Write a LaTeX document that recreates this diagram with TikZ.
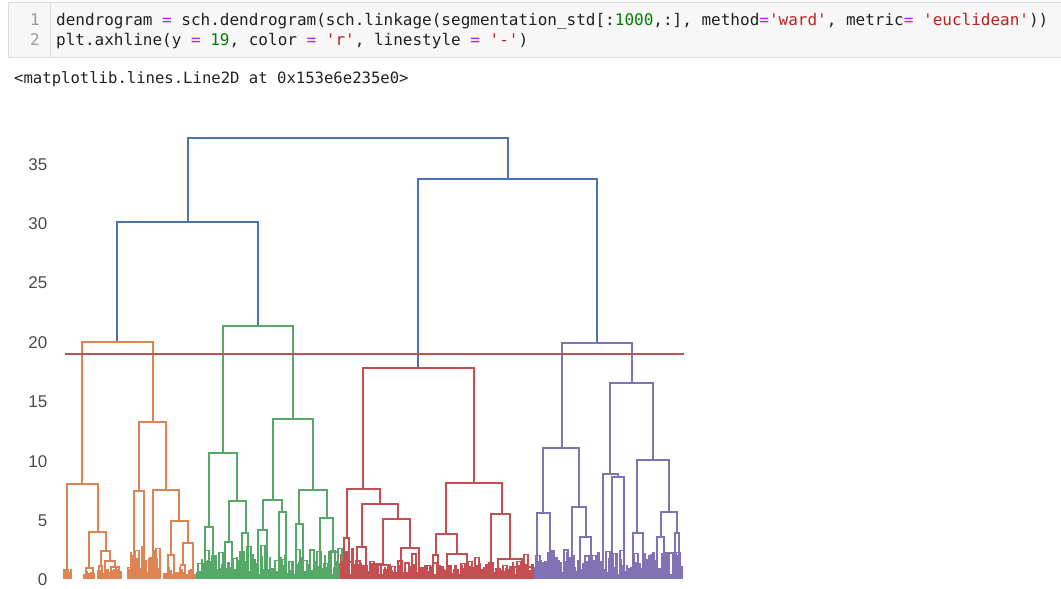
\documentclass[tikz,border=0pt]{standalone}
\usepackage{fontspec}
\setsansfont{Liberation Sans}
\newfontfamily\codefont{DejaVu Sans Mono}
\definecolor{dblue}{HTML}{4C72B0}
\definecolor{dorange}{HTML}{DD8452}
\definecolor{dgreen}{HTML}{55A868}
\definecolor{dred}{HTML}{C44E52}
\definecolor{dpurple}{HTML}{8172B3}
\definecolor{cellbg}{HTML}{F7F7F7}
\definecolor{cellbd}{HTML}{DCDCDC}
\definecolor{tickgray}{HTML}{4A4A4A}
\definecolor{opcol}{HTML}{AA22FF}
\definecolor{numcol}{HTML}{008000}
\definecolor{strcol}{HTML}{BA2121}
\newcommand{\kop}[1]{\textcolor{opcol}{#1}}
\newcommand{\knum}[1]{\textcolor{numcol}{#1}}
\newcommand{\kstr}[1]{\textcolor{strcol}{#1}}
\tikzset{
	merge/.style = {line width=1.9pt, line join=miter},
	upper/.style = {merge, draw=dblue},
	grpA/.style = {merge, draw=dorange},
	grpB/.style = {merge, draw=dgreen},
	grpC/.style = {merge, draw=dred},
	grpD/.style = {merge, draw=dpurple},
	leaf/.style = {line width=1.3pt},
	cut/.style = {line width=1.9pt, draw=dred},
	ticklab/.style = {anchor=east, inner sep=0pt, text=tickgray, font=\sffamily\fontsize{17}{17}\selectfont},
	codeline/.style = {anchor=base west, inner sep=0pt, text=black!87, font=\codefont\fontsize{16}{16}\selectfont},
	lineno/.style = {anchor=base east, inner sep=0pt, text=black!40, font=\codefont\fontsize{16}{16}\selectfont}
}

\begin{document}
\begin{tikzpicture}[x=1pt, y=-1pt]
		\useasboundingbox (0,0) rectangle (1061,589);
		\draw[fill=cellbg, draw=cellbd] (8.5,2.5) rectangle (1070,57.5);
		\draw[cellbd] (50.5,2.5) -- (50.5,57.5);
		\node [lineno] (num1) at (40,25.5) {1};
		\node [lineno] (num2) at (40,45.5) {2};
		\node [codeline] (code1) at (56,25.5) {dendrogram \kop{=} sch.dendrogram(sch.linkage(segmentation\_std[:\knum{1000},:], method\kop{=}\kstr{'ward'}, metric\kop{=} \kstr{'euclidean'}))};
		\node [codeline] (code2) at (56,45.5) {plt.axhline(y \kop{=} \knum{19}, color \kop{=} \kstr{'r'}, linestyle \kop{=} \kstr{'-'})};
		\node [codeline, font=\codefont\fontsize{15.6}{16}\selectfont] (result) at (14,83.5) {<matplotlib.lines.Line2D at 0x153e6e235e0>};
		\foreach \v [count=\i from 0] in {0,5,...,35}
			\node [ticklab] (tick\i) at (47.5,{580-11.88*\v}) {\v};
		\pgfmathsetseed{11}
		\foreach \xa/\xb/\hm/\cc in {64/72/8/dorange, 84/93/5/dorange, 98/122/7/dorange, 128/160/30/dorange, 164/196/12/dorange, 197/340/22/dgreen, 341/356/30/dred, 356/533/12/dred, 534/682/24/dpurple}{
			\pgfmathtruncatemacro{\nn}{(\xb-\xa)/2.2}
			\foreach \i in {0,...,\nn}{
				\pgfmathsetmacro{\xl}{\xa+2.2*\i}
				\pgfmathsetmacro{\hh}{575-\hm*rnd}
				\draw[leaf, draw=\cc] (\xl,579) |- ({\xl+1.2},\hh) -- ({\xl+1.2},579);
			}
		}
		\foreach \xa/\xb/\hm/\cc in {128/158/22/dorange, 198/338/28/dgreen, 342/530/16/dred, 536/680/26/dpurple}{
			\pgfmathtruncatemacro{\nn}{(\xb-\xa)/7}
			\foreach \i in {0,...,\nn}{
				\pgfmathsetmacro{\xl}{\xa+7*\i}
				\pgfmathsetmacro{\hh}{570-\hm*rnd}
				\draw[leaf, draw=\cc] (\xl,579) |- ({\xl+4},\hh) -- ({\xl+4},579);
			}
		}
		\foreach \xa/\ya/\xb/\yb/\h in {188.3/222.3/507.7/179.3/138.3, 116.7/342.3/258.3/326/222.3, 418.3/368.3/596.7/343.3/179.3}
			\draw[upper] (\xa,\ya) |- (\xb,\h) -- (\xb,\yb);
		\foreach \xa/\ya/\xb/\yb/\h in {81.7/484.3/153.3/421.7/342.3, 66.7/570/97.7/531.7/484.3, 89.3/568/105.7/550.7/531.7, 86/579/92.7/579/568, 100.7/566/110/560.7/550.7, 99/579/102.4/579/566, 105/579/115/567/560.7, 111/579/119/579/567, 65/579/68.4/579/570, 139.3/490.7/165.7/490/421.7, 134/579/144/579/490.7, 152.7/579/179.3/521/490, 170.7/555/187.7/543.3/521, 167.7/579/173.7/579/555, 182.7/565/193.3/579/543.3, 180.5/579/185/579/565}
			\draw[grpA] (\xa,\ya) |- (\xb,\h) -- (\xb,\yb);
		\foreach \xa/\ya/\xb/\yb/\h in {223.3/453.3/293.3/419.3/326, 209.3/526.7/237.3/500.7/453.3, 205/579/213.3/579/526.7, 228.7/541.7/246/532.7/500.7, 225/579/231.7/579/541.7, 241.7/579/248.3/579/532.7, 272.7/500/313.3/490/419.3, 263.3/530/282.3/511.7/500, 257.7/579/266.7/579/530, 278.7/579/285.7/579/511.7, 299.3/524.3/326.7/517.7/490, 296/579/303.3/579/524.3, 320/579/333.3/551.7/517.7, 328.7/579/338/579/551.7}
			\draw[grpB] (\xa,\ya) |- (\xb,\h) -- (\xb,\yb);
		\foreach \xa/\ya/\xb/\yb/\h in {363.3/489.3/474/483.3/368.3, 346.7/538.3/380/504/489.3, 344/579/349.3/579/538.3, 361.7/547.3/397.7/518.7/504, 357.3/579/366/579/547.3, 383.3/565/410/547.7/518.7, 378.3/579/387.7/579/565, 401/579/419/579/547.7, 446/534/501.7/514/483.3, 436/555/457.3/554.3/534, 433.3/579/438.3/579/555, 447.3/579/467.3/579/554.3, 491/579/510/559.3/514, 498.3/579/521.7/566.7/559.3, 511/579/533.3/579/566.7}
			\draw[grpC] (\xa,\ya) |- (\xb,\h) -- (\xb,\yb);
		\foreach \xa/\ya/\xb/\yb/\h in {561.7/448.3/631.7/383.3/343.3, 543.3/512.7/579/506.7/448.3, 537.3/579/550/579/512.7, 572.3/579/585.7/536.7/506.7, 580/579/590.7/579/536.7, 610/474.3/652.7/460/383.3, 602.7/579/618/477.3/474.3, 611.7/579/624.3/579/477.3, 637.3/532.7/669.3/511.7/460, 633.3/579/643.3/579/532.7, 660.7/536.7/677.3/532.7/511.7, 656.7/579/664/579/536.7, 675/579/679.3/579/532.7}
			\draw[grpD] (\xa,\ya) |- (\xb,\h) -- (\xb,\yb);
		\draw[cut] (65,354) -- (684,354);
\end{tikzpicture}
\end{document}
